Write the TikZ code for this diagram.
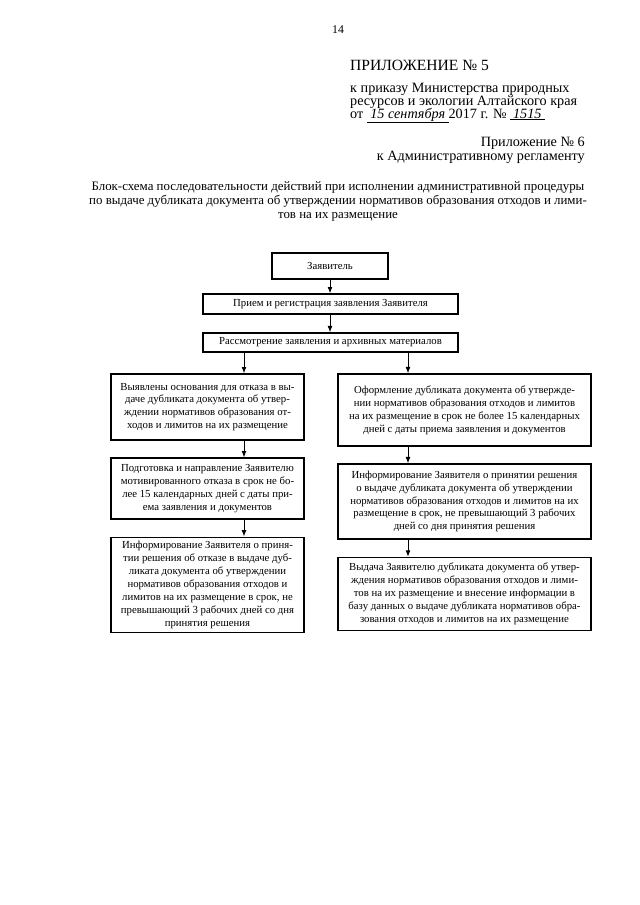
\documentclass[tikz,border=0pt]{standalone}
\usepackage{fontspec}
\setmainfont{Liberation Serif}
\usetikzlibrary{arrows.meta}

\begin{document}
\begin{tikzpicture}[x=0.93pt, y=-0.93pt, >={Latex[length=6pt,width=4.5pt]},
    blok/.style={draw, line width=1pt, align=center, inner sep=2pt,
        font=\fontsize{10}{12}\selectfont},
    shapka/.style={inner sep=0pt, anchor=base west, font=\fontsize{13.2}{13}\selectfont},
    strelka/.style={->, line width=0.9pt}]
    \useasboundingbox (0,0) rectangle (640,905);

    % page head
    \node[inner sep=0pt, font=\fontsize{11}{13}\selectfont] (nomer) at (338,30) {14};
    \node[shapka, font=\fontsize{14.5}{14}\selectfont] (pril5) at (350,70) {ПРИЛОЖЕНИЕ № 5};
    \node[shapka] (prikaz1) at (350,92) {к приказу Министерства природных};
    \node[shapka] (prikaz2) at (350,105) {ресурсов и экологии Алтайского края};
    \node[shapka] (prikaz3) at (350,118)
        {от \underline{\makebox[76pt]{\textit{15 сентября}}}2017 г. № \underline{\makebox[32pt]{\textit{1515}}}};
    \node[inner sep=0pt, anchor=north east, align=right, font=\fontsize{13.2}{13}\selectfont] (pril6) at (585,137)
        {Приложение № 6\\ к Административному регламенту};
    \node[inner sep=0pt, align=center, font=\fontsize{12}{13}\selectfont] (zagl) at (338,201)
        {Блок-схема последовательности действий при исполнении административной процедуры\\
         по выдаче дубликата документа об утверждении нормативов образования отходов и лими-\\
         тов на их размещение};

    % boxes
    \node[blok, minimum width=107.9pt, minimum height=24.2pt] (zayav) at (330,266) {Заявитель};
    \node[blok, minimum width=237.2pt, minimum height=18.6pt] (priem) at (330.5,304)
        {Прием и регистрация заявления Заявителя};
    \node[blok, minimum width=237.2pt, minimum height=17.7pt] (rassm) at (330.5,342.5)
        {Рассмотрение заявления и архивных материалов};

    \node[blok, minimum width=179.5pt, minimum height=61.4pt] (otkaz) at (207.5,407)
        {Выявлены основания для отказа в вы-\\
         даче дубликата документа об утвер-\\
         ждении нормативов образования от-\\
         ходов и лимитов на их размещение};
    \node[blok, minimum width=179.5pt, minimum height=56.7pt] (podgot) at (207.5,488.5)
        {Подготовка и направление Заявителю\\
         мотивированного отказа в срок не бо-\\
         лее 15 календарных дней с даты при-\\
         ема заявления и документов};
    \node[blok, minimum width=179.5pt, minimum height=89pt] (inflev) at (207.5,585)
        {Информирование Заявителя о приня-\\
         тии решения об отказе в выдаче дуб-\\
         ликата документа об утверждении\\
         нормативов образования отходов и\\
         лимитов на их размещение в срок, не\\
         превышающий 3 рабочих дней со дня\\
         принятия решения};

    \node[blok, minimum width=235.3pt, minimum height=67pt] (oform) at (464.5,410)
        {Оформление дубликата документа об утвержде-\\
         нии нормативов образования отходов и лимитов\\
         на их размещение в срок не более 15 календарных\\
         дней с даты приема заявления и документов};
    \node[blok, minimum width=235.3pt, minimum height=69.8pt] (infprav) at (464.5,501.5)
        {Информирование Заявителя о принятии решения\\
         о выдаче дубликата документа об утверждении\\
         нормативов образования отходов и лимитов на их\\
         размещение в срок, не превышающий 3 рабочих\\
         дней со дня принятия решения};
    \node[blok, minimum width=235.3pt, minimum height=68pt] (vydacha) at (464.5,594)
        {Выдача Заявителю дубликата документа об утвер-\\
         ждения нормативов образования отходов и лими-\\
         тов на их размещение и внесение информации в\\
         базу данных о выдаче дубликата нормативов обра-\\
         зования отходов и лимитов на их размещение};

    \coordinate (levo) at (244,0);
    \coordinate (pravo) at (408,0);

    \path[strelka]
    (zayav.south) edge (zayav.south |- priem.north)
    (priem.south -| zayav.south) edge (zayav.south |- rassm.north)
    (rassm.south -| levo) edge (otkaz.north -| levo)
    (rassm.south -| pravo) edge (oform.north -| pravo)
    (otkaz.south -| levo) edge (podgot.north -| levo)
    (podgot.south -| levo) edge (inflev.north -| levo)
    (oform.south -| pravo) edge (infprav.north -| pravo)
    (infprav.south -| pravo) edge (vydacha.north -| pravo);

\end{tikzpicture}
\end{document}
